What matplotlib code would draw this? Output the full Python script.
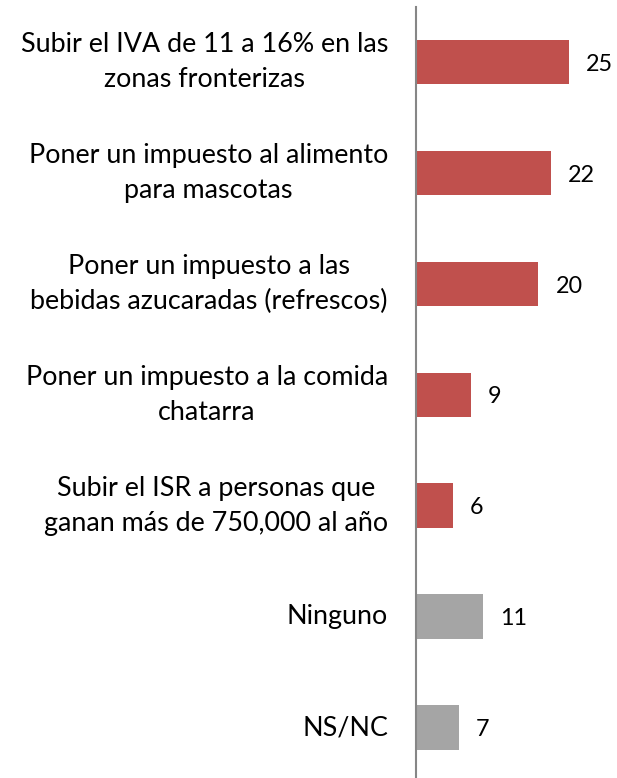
import matplotlib
matplotlib.use("Agg")
import matplotlib.pyplot as plt

categories = [
    "Subir el IVA de 11 a 16% en las\nzonas fronterizas",
    "Poner un impuesto al alimento\npara mascotas",
    "Poner un impuesto a las\nbebidas azucaradas (refrescos)",
    "Poner un impuesto a la comida\nchatarra",
    "Subir el ISR a personas que\nganan más de 750,000 al año",
    "Ninguno",
    "NS/NC",
]
values = [25, 22, 20, 9, 6, 11, 7]
colors = ["#C0504D"] * 5 + ["#A5A5A5"] * 2

W, H = 617, 778
fig = plt.figure(figsize=(W / 100, H / 100), dpi=100)
left = 416 / W
xmax = 30
px_per_unit = 6.12
right = (416 + xmax * px_per_unit) / W
top_px, bot_px = 6.5, 783
ax = fig.add_axes([left, 1 - bot_px / H, right - left, (bot_px - top_px) / H])

plt.rcParams['font.family'] = ['Lato', 'DejaVu Sans']
y = list(range(len(categories)))
ax.barh(y, values, height=0.4, color=colors)
ax.set_ylim(len(categories) - 0.5, -0.5)
ax.set_xlim(0, xmax)

for sp in ["top", "right", "bottom"]:
    ax.spines[sp].set_visible(False)
ax.spines["left"].set_color("#868686")
ax.spines["left"].set_linewidth(1.5)
ax.set_xticks([])
ax.set_yticks([])

for yi, cat, v in zip(y, categories, values):
    ax.text(-28 / px_per_unit, yi, cat, ha="right", va="center", multialignment="center",
            fontsize=19.4, family=['Lato', 'DejaVu Sans'], linespacing=1.5, color="#000000")
    ax.text(v + 17 / px_per_unit, yi + 0.02, str(v), ha="left", va="center",
            fontsize=16.8, family=['Lato', 'DejaVu Sans'], color="#000000")

fig.savefig("out.png", dpi=100)
